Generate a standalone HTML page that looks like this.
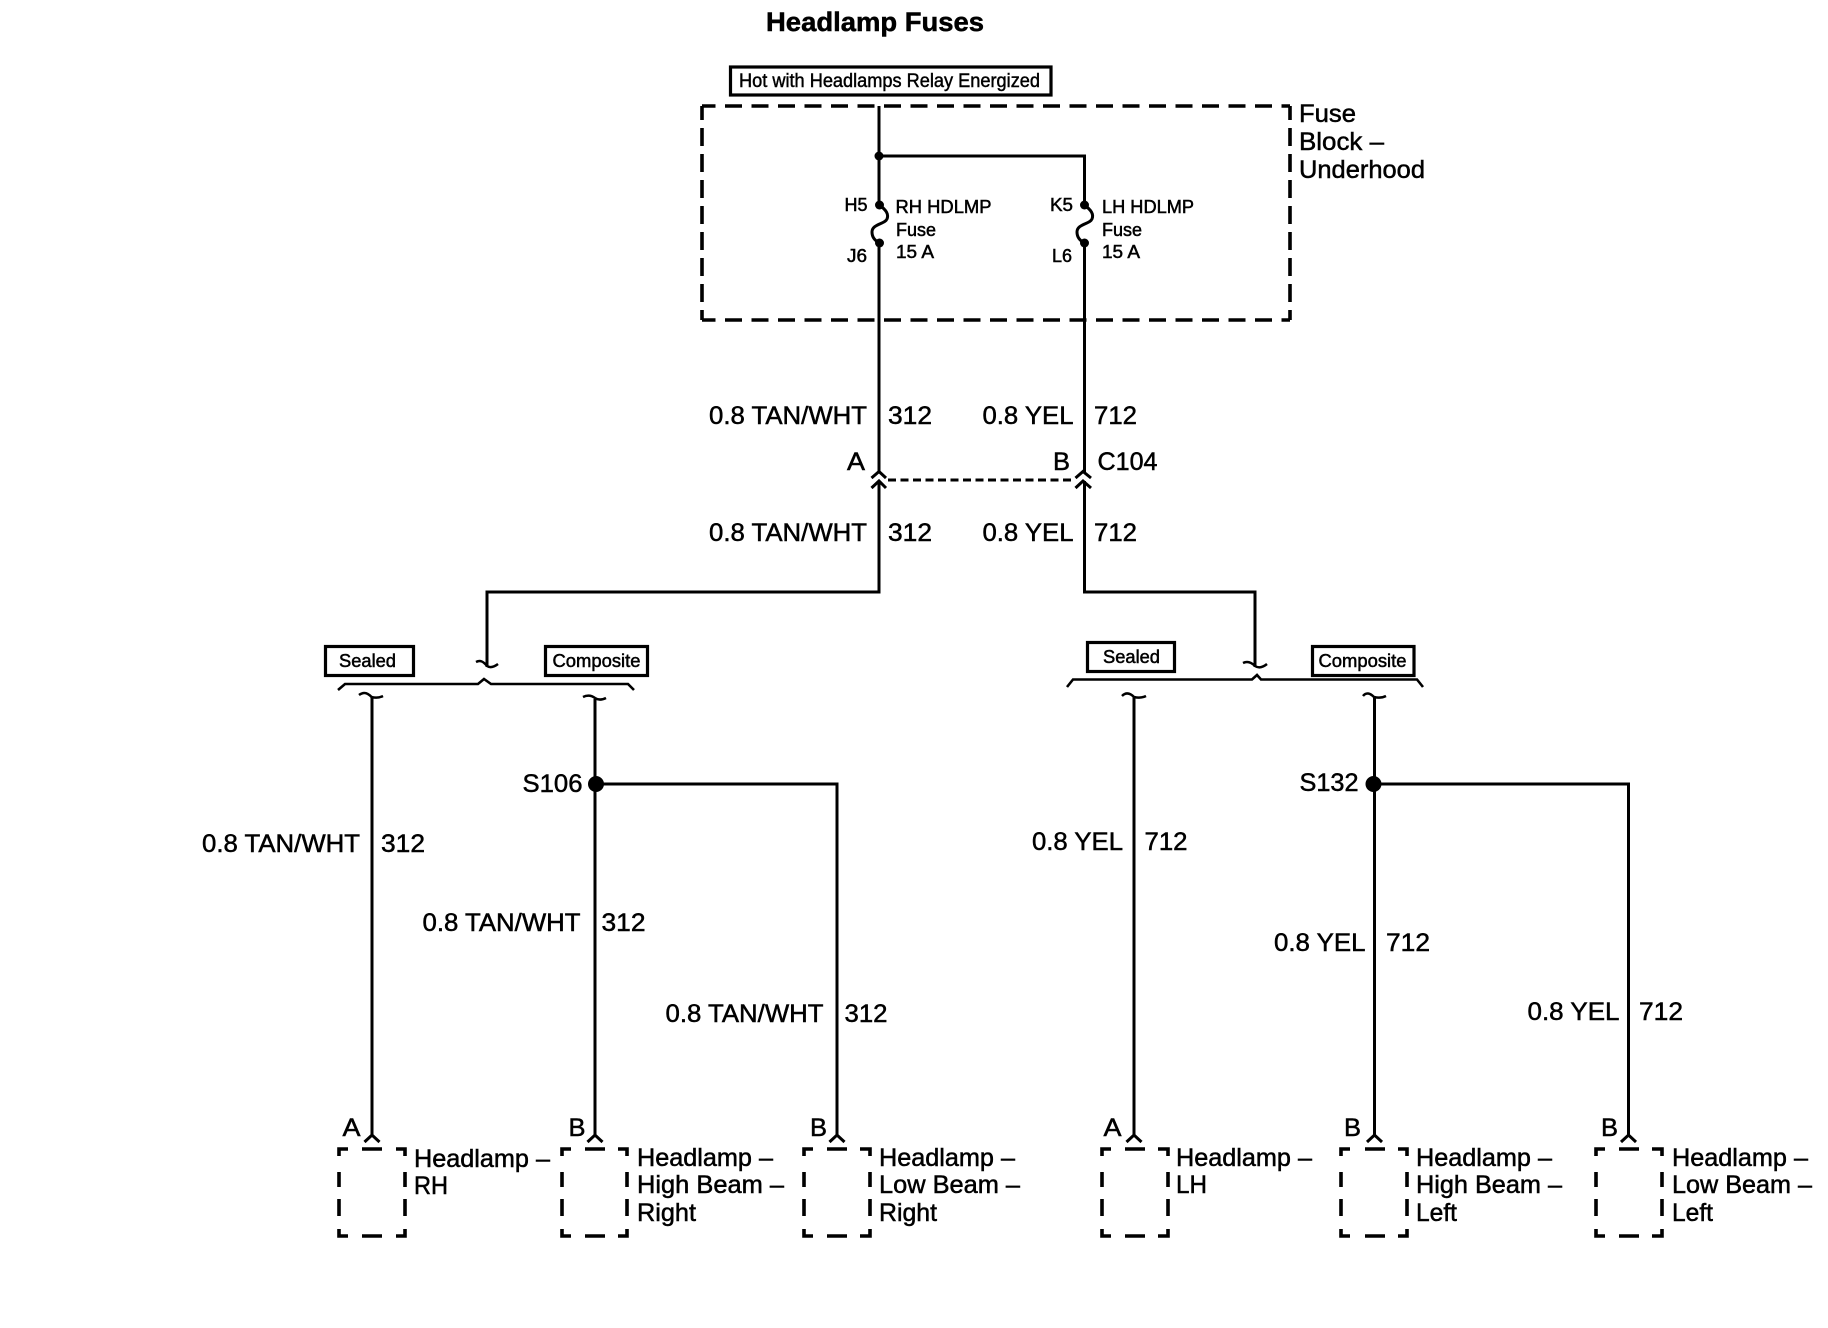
<!DOCTYPE html>
<html>
<head>
<meta charset="utf-8">
<style>
html,body{margin:0;padding:0;background:#fff}
svg{display:block}
text{font-family:"Liberation Sans",sans-serif;fill:#000;stroke:#000;stroke-width:.5;font-size:25px}
.s{font-size:18px;stroke-width:.5}
.t{font-size:19px;stroke-width:.45}
.w{fill:none;stroke:#000;stroke-width:3}
.d{fill:none;stroke:#000;stroke-width:3.6}
</style>
</head>
<body>
<svg width="1828" height="1328" viewBox="0 0 1828 1328" xmlns="http://www.w3.org/2000/svg">
<rect width="1828" height="1328" fill="#fff"/>

<text x="766" y="31" style="font-size:27px;font-weight:bold" textLength="218" lengthAdjust="spacingAndGlyphs">Headlamp Fuses</text>

<rect x="730.5" y="67" width="320.5" height="28" fill="none" stroke="#000" stroke-width="3.2"/>
<text class="t" x="739" y="87" textLength="301" lengthAdjust="spacingAndGlyphs">Hot with Headlamps Relay Energized</text>

<!-- fuse block dashed box -->
<path class="d" d="M702,106H1290" stroke-dasharray="17 9.5" stroke-dashoffset="3.5"/>
<path class="d" d="M702,320H1290" stroke-dasharray="17 9.5" stroke-dashoffset="3.5"/>
<path class="d" d="M702,106V320" stroke-dasharray="18 8" stroke-dashoffset="4"/>
<path class="d" d="M1290,106V320" stroke-dasharray="18 8" stroke-dashoffset="4"/>
<text x="1299" y="122" textLength="57" lengthAdjust="spacingAndGlyphs">Fuse</text>
<text x="1299" y="150" textLength="85" lengthAdjust="spacingAndGlyphs">Block –</text>
<text x="1299" y="178" textLength="126" lengthAdjust="spacingAndGlyphs">Underhood</text>

<!-- fuse wiring -->
<path class="w" d="M879,106V205"/>
<path class="w" d="M879,156H1084.5V205"/>
<circle cx="879" cy="156" r="4.5"/>
<circle cx="879.5" cy="205" r="4.5"/>
<circle cx="879.5" cy="243" r="4.5"/>
<circle cx="1084.5" cy="205" r="4.5"/>
<circle cx="1084.5" cy="243" r="4.5"/>
<path class="w" d="M879.5,205C886,210 889,214 887,219C885,224 872,224 872,232C872,238 875.5,241 879.5,243"/>
<path class="w" d="M1084.5,205C1091,210 1094,214 1092,219C1090,224 1077,224 1077,232C1077,238 1080.5,241 1084.5,243"/>
<path class="w" d="M879,243V472"/>
<path class="w" d="M1084.5,243V472"/>

<text class="s" x="844.5" y="211" textLength="23" lengthAdjust="spacingAndGlyphs">H5</text>
<text class="s" x="847" y="262" textLength="20" lengthAdjust="spacingAndGlyphs">J6</text>
<text class="s" x="1050" y="211" textLength="23" lengthAdjust="spacingAndGlyphs">K5</text>
<text class="s" x="1052" y="262" textLength="20" lengthAdjust="spacingAndGlyphs">L6</text>
<text class="s" x="895.5" y="213" textLength="96" lengthAdjust="spacingAndGlyphs">RH HDLMP</text>
<text class="s" x="896" y="236" textLength="40" lengthAdjust="spacingAndGlyphs">Fuse</text>
<text class="s" x="896" y="258" textLength="38" lengthAdjust="spacingAndGlyphs">15 A</text>
<text class="s" x="1102" y="213" textLength="92" lengthAdjust="spacingAndGlyphs">LH HDLMP</text>
<text class="s" x="1102" y="236" textLength="40" lengthAdjust="spacingAndGlyphs">Fuse</text>
<text class="s" x="1102" y="258" textLength="38" lengthAdjust="spacingAndGlyphs">15 A</text>

<!-- C104 -->
<text x="709" y="424" textLength="158" lengthAdjust="spacingAndGlyphs">0.8 TAN/WHT</text>
<text x="888" y="424" textLength="44" lengthAdjust="spacingAndGlyphs">312</text>
<text x="982.5" y="424" textLength="91" lengthAdjust="spacingAndGlyphs">0.8 YEL</text>
<text x="1094" y="424" textLength="43" lengthAdjust="spacingAndGlyphs">712</text>
<text x="847" y="470" textLength="18" lengthAdjust="spacingAndGlyphs">A</text>
<text x="1053" y="470" textLength="17" lengthAdjust="spacingAndGlyphs">B</text>
<text x="1097.5" y="470" textLength="60" lengthAdjust="spacingAndGlyphs">C104</text>
<text x="709" y="541" textLength="158" lengthAdjust="spacingAndGlyphs">0.8 TAN/WHT</text>
<text x="888" y="541" textLength="44" lengthAdjust="spacingAndGlyphs">312</text>
<text x="982.5" y="541" textLength="91" lengthAdjust="spacingAndGlyphs">0.8 YEL</text>
<text x="1094" y="541" textLength="43" lengthAdjust="spacingAndGlyphs">712</text>
<path class="w" d="M871.5,478L879,471.5L886,478"/>
<path class="w" d="M871.5,488L879,481L886,488"/>
<path class="w" d="M1075.5,478L1083,471.5L1091,478"/>
<path class="w" d="M1075.5,488L1083,481L1091,488"/>
<path class="w" d="M888,480H1073" stroke-dasharray="8 4.5"/>

<path class="w" d="M879,481V592H487V667"/>
<path class="w" d="M1084.5,481V592H1255V667"/>

<!-- left tabs -->
<rect x="325.5" y="646.5" width="88" height="29" fill="none" stroke="#000" stroke-width="3.2"/>
<text class="s" x="339" y="667" textLength="57" lengthAdjust="spacingAndGlyphs">Sealed</text>
<rect x="545.5" y="646.5" width="102" height="29" fill="none" stroke="#000" stroke-width="3.2"/>
<text class="s" x="552.5" y="667" textLength="88" lengthAdjust="spacingAndGlyphs">Composite</text>
<path class="w" d="M476,662C480,660 483,661 487,666C490,668 494,667 498,664" style="stroke-width:2.5"/>
<path class="w" d="M338,690L345,684H478L484,679L491,684H628L634,690" style="stroke-width:2.6"/>
<path class="w" d="M359,695C363,692 367,692 371.5,697C375,698 379,698 383,696" style="stroke-width:2.5"/>
<path class="w" d="M583,697C587,695 591,695 595,698C598,700 602,700 606,698" style="stroke-width:2.5"/>

<!-- right tabs -->
<rect x="1087.5" y="642.5" width="87" height="29" fill="none" stroke="#000" stroke-width="3.2"/>
<text class="s" x="1103" y="663" textLength="57" lengthAdjust="spacingAndGlyphs">Sealed</text>
<rect x="1312.5" y="646.5" width="101.5" height="29" fill="none" stroke="#000" stroke-width="3.2"/>
<text class="s" x="1318.5" y="667" textLength="88" lengthAdjust="spacingAndGlyphs">Composite</text>
<path class="w" d="M1243,663C1247,661 1251,662 1255,666C1258,668 1262,668 1267,664" style="stroke-width:2.5"/>
<path class="w" d="M1067,687L1073,679.5H1252L1257,675L1261,679.5H1417L1423,687" style="stroke-width:2.6"/>
<path class="w" d="M1122,696C1126,692 1130,693 1134,697C1138,698 1142,698 1146,696" style="stroke-width:2.5"/>
<path class="w" d="M1363,696C1366,692 1370,693 1374,697C1378,698 1382,698 1386,696" style="stroke-width:2.5"/>

<!-- lower wires -->
<path class="w" d="M372,697V1135"/>
<path class="w" d="M595,699V1135"/>
<path class="w" d="M595,784H837V1135"/>
<circle cx="596" cy="784" r="8"/>
<path class="w" d="M1134,697V1135"/>
<path class="w" d="M1374.5,697V1135"/>
<path class="w" d="M1374.5,784H1628.5V1135"/>
<circle cx="1373.5" cy="784" r="8"/>
<text x="522.5" y="792" textLength="60" lengthAdjust="spacingAndGlyphs">S106</text>
<text x="1299.5" y="791" textLength="59" lengthAdjust="spacingAndGlyphs">S132</text>

<text x="202" y="852" textLength="158" lengthAdjust="spacingAndGlyphs">0.8 TAN/WHT</text>
<text x="381" y="852" textLength="44" lengthAdjust="spacingAndGlyphs">312</text>
<text x="422.5" y="931" textLength="158" lengthAdjust="spacingAndGlyphs">0.8 TAN/WHT</text>
<text x="601.5" y="931" textLength="44" lengthAdjust="spacingAndGlyphs">312</text>
<text x="665.5" y="1022" textLength="158" lengthAdjust="spacingAndGlyphs">0.8 TAN/WHT</text>
<text x="844.5" y="1022" textLength="43" lengthAdjust="spacingAndGlyphs">312</text>
<text x="1032" y="850" textLength="91" lengthAdjust="spacingAndGlyphs">0.8 YEL</text>
<text x="1144.5" y="850" textLength="43" lengthAdjust="spacingAndGlyphs">712</text>
<text x="1274" y="951" textLength="91.5" lengthAdjust="spacingAndGlyphs">0.8 YEL</text>
<text x="1386" y="951" textLength="44" lengthAdjust="spacingAndGlyphs">712</text>
<text x="1527.5" y="1020" textLength="92" lengthAdjust="spacingAndGlyphs">0.8 YEL</text>
<text x="1639" y="1020" textLength="44" lengthAdjust="spacingAndGlyphs">712</text>

<!-- arrowheads -->
<path class="w" d="M364.5,1142L372,1135L379.5,1142"/>
<path class="w" d="M587.5,1142L595,1135L602.5,1142"/>
<path class="w" d="M829.5,1142L837,1135L844.5,1142"/>
<path class="w" d="M1126.5,1142L1134,1135L1141.5,1142"/>
<path class="w" d="M1367,1142L1374.5,1135L1382,1142"/>
<path class="w" d="M1621,1142L1628.5,1135L1636,1142"/>

<text x="342.5" y="1136" textLength="18" lengthAdjust="spacingAndGlyphs">A</text>
<text x="568.5" y="1136" textLength="17" lengthAdjust="spacingAndGlyphs">B</text>
<text x="810" y="1136" textLength="17" lengthAdjust="spacingAndGlyphs">B</text>
<text x="1103.5" y="1136" textLength="18" lengthAdjust="spacingAndGlyphs">A</text>
<text x="1344" y="1136" textLength="17" lengthAdjust="spacingAndGlyphs">B</text>
<text x="1601" y="1136" textLength="17" lengthAdjust="spacingAndGlyphs">B</text>

<!-- dashed component boxes -->
<path class="d" d="M339,1156V1149H348M362,1149H382M396,1149H405V1156M339,1172V1187M339,1199V1216M405,1172V1187M405,1199V1216M339,1229V1236H348M362,1236H382M396,1236H405V1229"/>
<path class="d" d="M562,1156V1149H571M585,1149H605M618,1149H627V1156M562,1172V1187M562,1199V1216M627,1172V1187M627,1199V1216M562,1229V1236H571M585,1236H605M618,1236H627V1229"/>
<path class="d" d="M804,1156V1149H813M827,1149H847M860,1149H870V1156M804,1172V1187M804,1199V1216M870,1172V1187M870,1199V1216M804,1229V1236H813M827,1236H847M860,1236H870V1229"/>
<path class="d" d="M1102,1156V1149H1111M1125,1149H1145M1158,1149H1168V1156M1102,1172V1187M1102,1199V1216M1168,1172V1187M1168,1199V1216M1102,1229V1236H1111M1125,1236H1145M1158,1236H1168V1229"/>
<path class="d" d="M1341,1156V1149H1350M1365,1149H1385M1398,1149H1407V1156M1341,1172V1187M1341,1199V1216M1407,1172V1187M1407,1199V1216M1341,1229V1236H1350M1365,1236H1385M1398,1236H1407V1229"/>
<path class="d" d="M1596,1156V1149H1605M1619,1149H1639M1652,1149H1662V1156M1596,1172V1187M1596,1199V1216M1662,1172V1187M1662,1199V1216M1596,1229V1236H1605M1619,1236H1639M1652,1236H1662V1229"/>

<!-- component labels -->
<text x="414" y="1167" textLength="136" lengthAdjust="spacingAndGlyphs">Headlamp –</text>
<text x="414" y="1194" textLength="34" lengthAdjust="spacingAndGlyphs">RH</text>

<text x="637" y="1166" textLength="136" lengthAdjust="spacingAndGlyphs">Headlamp –</text>
<text x="637" y="1193" textLength="147" lengthAdjust="spacingAndGlyphs">High Beam –</text>
<text x="637" y="1221" textLength="59" lengthAdjust="spacingAndGlyphs">Right</text>

<text x="879" y="1166" textLength="136" lengthAdjust="spacingAndGlyphs">Headlamp –</text>
<text x="879" y="1193" textLength="141" lengthAdjust="spacingAndGlyphs">Low Beam –</text>
<text x="879" y="1221" textLength="58" lengthAdjust="spacingAndGlyphs">Right</text>

<text x="1176" y="1166" textLength="136" lengthAdjust="spacingAndGlyphs">Headlamp –</text>
<text x="1176" y="1193" textLength="31" lengthAdjust="spacingAndGlyphs">LH</text>

<text x="1416" y="1166" textLength="136" lengthAdjust="spacingAndGlyphs">Headlamp –</text>
<text x="1416" y="1193" textLength="146" lengthAdjust="spacingAndGlyphs">High Beam –</text>
<text x="1416" y="1221" textLength="41" lengthAdjust="spacingAndGlyphs">Left</text>

<text x="1672" y="1166" textLength="136" lengthAdjust="spacingAndGlyphs">Headlamp –</text>
<text x="1672" y="1193" textLength="140" lengthAdjust="spacingAndGlyphs">Low Beam –</text>
<text x="1672" y="1221" textLength="41" lengthAdjust="spacingAndGlyphs">Left</text>
</svg>
</body>
</html>
